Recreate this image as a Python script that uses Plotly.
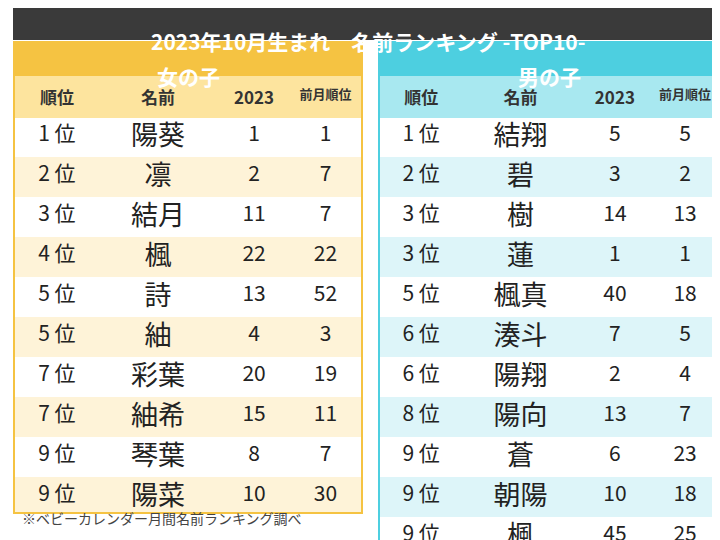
import plotly.graph_objects as go

title = "2023年10月生まれ　名前ランキング -TOP10-"
cols = ["順位", "名前", "2023", "前月順位"]

girl_rank = ["1 位", "2 位", "3 位", "4 位", "5 位", "5 位", "7 位", "7 位", "9 位", "9 位"]
girl_name = ["陽葵", "凛", "結月", "楓", "詩", "紬", "彩葉", "紬希", "琴葉", "陽菜"]
girl_2023 = [1, 2, 11, 22, 13, 4, 20, 15, 8, 10]
girl_prev = [1, 7, 7, 22, 52, 3, 19, 11, 7, 30]

boy_rank = ["1 位", "2 位", "3 位", "3 位", "5 位", "6 位", "6 位", "8 位", "9 位", "9 位", "9 位"]
boy_name = ["結翔", "碧", "樹", "蓮", "楓真", "湊斗", "陽翔", "陽向", "蒼", "朝陽", "楓"]
boy_2023 = [5, 3, 14, 1, 40, 7, 2, 13, 6, 10, 45]
boy_prev = [5, 2, 13, 1, 18, 5, 4, 7, 23, 18, 25]

FONT = "Noto Sans CJK JP"
W, H = 720, 540


def px(x0, x1, y0, y1):
    return dict(x=[x0 / W, x1 / W], y=[max(0, 1 - y1 / H), 1 - y0 / H])


def table(rank, name, v23, prev, head_c, light, x0, x1, y1, hh):
    n = len(rank)
    fills = ["white" if i % 2 == 0 else light for i in range(n)]
    return go.Table(
        domain=px(x0, x1, 68, y1),
        columnwidth=[85, 120, 75, 70],
        header=dict(values=[f"<b>{c}</b>" for c in cols], fill_color=head_c,
                    line_color=head_c, height=hh, align="center",
                    font=dict(family=FONT, size=[17, 17, 17, 13], color="#333")),
        cells=dict(values=[rank, name, v23, prev], fill_color=[fills] * 4,
                   line_color=[fills] * 4, height=40, align="center",
                   font=dict(family=FONT, size=[21, 27, 21, 21], color="#222")),
    )


fig = go.Figure([
    table(girl_rank, girl_name, girl_2023, girl_prev, "#FDE49E", "#FEF3D8", 7, 353, 504, 34),
    table(boy_rank, boy_name, boy_2023, boy_prev, "#A8E8F0", "#DDF5F9", 372, 711, 540, 32),
])

shapes = [
    dict(type="rect", xref="paper", yref="paper", x0=5 / W, x1=715 / W,
         y0=1 - 32 / H, y1=1, fillcolor="#3A3A3A", line_width=0),
    dict(type="rect", xref="paper", yref="paper", x0=6 / W, x1=354 / W,
         y0=1 - 68 / H, y1=1 - 34 / H, fillcolor="#F5C342", line_width=0),
    dict(type="rect", xref="paper", yref="paper", x0=371 / W, x1=712 / W,
         y0=1 - 68 / H, y1=1 - 34 / H, fillcolor="#4DCFE0", line_width=0),
    dict(type="rect", xref="paper", yref="paper", x0=6 / W, x1=354 / W,
         y0=1 - 505 / H, y1=1 - 34 / H, line=dict(color="#F5C342", width=2)),
    dict(type="rect", xref="paper", yref="paper", x0=371 / W, x1=712 / W,
         y0=-0.01, y1=1 - 34 / H, line=dict(color="#4DCFE0", width=2)),
]
annotations = [
    dict(text=f"<b>{title}</b>", x=360 / W, y=1 - 16 / H, font=dict(size=21, color="white")),
    dict(text="<b>女の子</b>", x=180 / W, y=1 - 51 / H, font=dict(size=21, color="white")),
    dict(text="<b>男の子</b>", x=541 / W, y=1 - 51 / H, font=dict(size=21, color="white")),
    dict(text="※ベビーカレンダー月間名前ランキング調べ", x=12 / W, y=1 - 522 / H,
         xanchor="left", font=dict(size=14, color="#444")),
]
for a in annotations:
    a.update(xref="paper", yref="paper", showarrow=False)
    a.setdefault("xanchor", "center")
    a["font"]["family"] = FONT

fig.update_layout(width=W, height=H, margin=dict(l=0, r=0, t=0, b=0),
                  paper_bgcolor="white", shapes=shapes, annotations=annotations)
fig.write_html("out.html")
